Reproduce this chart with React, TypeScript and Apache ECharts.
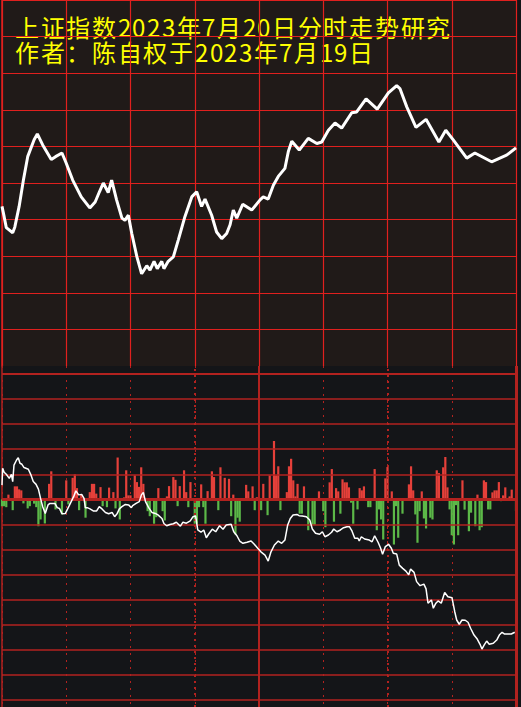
import React, { useEffect, useRef } from "react";
import * as echarts from "echarts";

const titleLines = ["上证指数2023年7月20日分时走势研究", "作者：陈自权于2023年7月19日"];

// top panel: index price line (minute of session, index points)
const priceMinutes = [0, 1, 2, 5, 6, 8, 10, 12, 15, 16.5, 19, 23, 25, 28, 30, 33, 37, 41, 43.5, 45.5, 47.3, 49.6, 51.2, 53.5, 56, 57.4, 59, 60.6, 63, 65.2, 67.6, 69.1, 71, 72.5, 74.6, 75.6, 77.6, 80, 82.3, 85.4, 88.6, 90.9, 93.2, 94.8, 97.9, 100.2, 102.6, 104.9, 106.5, 108, 109.6, 112.4, 116.6, 120.5, 122, 124.3, 126.7, 129, 132.1, 133.7, 135.3, 138.8, 143, 147, 149.3, 152.4, 155.5, 158.6, 163.3, 165.6, 170, 175.2, 180.4, 184.3, 185.8, 189, 193.3, 198, 204, 207.2, 210.7, 217, 220.8, 228.6, 235.6, 240];
const priceValues = [3181.8, 3180.4, 3178.9, 3178.2, 3179.0, 3181.8, 3185.4, 3188.6, 3190.9, 3191.7, 3190.2, 3188.2, 3188.6, 3189.1, 3187.7, 3185.4, 3183.1, 3181.6, 3182.4, 3183.8, 3185.0, 3183.7, 3185.4, 3182.7, 3180.2, 3179.9, 3180.6, 3178.1, 3174.9, 3172.6, 3173.7, 3173.1, 3174.3, 3173.3, 3174.3, 3173.3, 3174.3, 3174.9, 3177.2, 3180.4, 3183.1, 3183.8, 3181.8, 3182.8, 3180.6, 3178.3, 3177.4, 3178.1, 3179.3, 3181.3, 3180.2, 3182.1, 3181.3, 3182.7, 3183.1, 3182.8, 3184.7, 3185.9, 3187.0, 3189.3, 3190.7, 3189.5, 3191.1, 3190.4, 3190.6, 3192.2, 3193.2, 3192.5, 3194.6, 3194.7, 3196.5, 3195.1, 3197.3, 3198.3, 3197.9, 3195.4, 3192.6, 3193.7, 3190.6, 3192.2, 3190.9, 3188.4, 3189.1, 3187.9, 3188.8, 3189.8];

// bottom panel: positive (red) bars
const redMinutes = [3, 6, 7, 8, 9, 22, 23, 30, 33, 34, 35, 37, 41, 42, 43, 44, 46, 50, 52, 54, 57, 58, 59, 60, 62, 63, 64, 65, 66, 73, 77, 78, 80, 81, 83, 85, 86, 88, 93, 96, 98, 99, 102, 104, 106, 108, 114, 115, 117, 119, 122, 125, 127, 128, 129, 133, 134, 135, 136, 137, 138, 141, 148, 153, 154, 156, 157, 159, 160, 161, 162, 167, 168, 169, 174, 179, 180, 182, 190, 191, 192, 196, 203, 204, 206, 207, 208, 215, 222, 225, 226, 229, 230, 231, 232, 234, 235, 237, 238];
const redValues = [0.19, 0.52, 0.52, 0.4, 0.36, 0.62, 1.12, 0.76, 0.86, 1.0, 0.45, 0.19, 0.29, 0.62, 0.62, 0.23, 0.49, 0.47, 0.29, 1.67, 0.08, 1.16, 0.16, 0.16, 0.96, 0.69, 0.5, 1.28, 0.62, 0.45, 0.12, 0.53, 0.89, 0.78, 0.53, 1.16, 0.29, 0.69, 0.6, 0.33, 1.12, 0.89, 1.28, 0.86, 0.82, 0.19, 0.58, 0.32, 0.52, 0.09, 0.62, 0.96, 2.33, 0.96, 1.32, 0.29, 1.32, 1.62, 0.76, 0.12, 0.62, 0.52, 0.32, 0.68, 1.21, 0.45, 0.32, 0.8, 0.68, 0.68, 0.48, 0.45, 0.36, 0.52, 1.21, 0.84, 1.29, 0.32, 0.6, 1.32, 0.36, 0.32, 1.16, 1.05, 1.28, 1.69, 0.48, 0.76, 0.19, 0.76, 0.69, 0.28, 0.36, 0.36, 0.69, 0.16, 0.48, 0.12, 0.39];

// bottom panel: negative (green) bars
const greenMinutes = [0, 1, 2, 5, 10, 12, 13, 15, 16, 17, 18, 20, 25, 28, 31, 36, 39, 47, 49, 53, 55, 68, 69, 71, 72, 75, 76, 82, 87, 90, 91, 92, 94, 95, 101, 107, 109, 110, 111, 118, 121, 124, 130, 139, 140, 143, 145, 146, 150, 151, 155, 158, 163, 164, 166, 171, 172, 175, 176, 177, 178, 183, 184, 185, 187, 193, 194, 195, 197, 198, 200, 201, 209, 210, 211, 212, 213, 216, 218, 219, 221, 223, 224, 227, 228, 233, 240];
const greenValues = [-0.27, -0.27, -0.31, -0.43, -0.16, -0.36, -0.27, -0.17, -0.31, -1.07, -0.8, -0.96, -0.4, -0.6, -0.2, -0.43, -0.73, -0.27, -0.31, -0.36, -0.8, -0.47, -0.67, -0.97, -0.71, -0.47, -0.84, -0.27, -0.31, -0.97, -0.97, -0.31, -0.31, -0.97, -0.43, -0.67, -1.4, -0.73, -0.89, -0.43, -0.43, -0.63, -0.43, -0.57, -0.57, -1.23, -1.03, -1.03, -0.47, -1.11, -0.89, -0.57, -0.13, -0.97, -0.4, -0.31, -0.31, -1.23, -0.4, -0.8, -1.6, -1.8, -0.27, -1.53, -0.57, -0.6, -1.73, -0.47, -0.76, -1.16, -0.73, -0.8, -0.4, -1.43, -1.8, -0.23, -1.43, -0.41, -1.27, -0.53, -1.07, -1.23, -1.11, -0.4, -0.4, -0.07, -0.47];

// bottom panel: thin white line
const flowMinutes = [0, 0.3, 1, 2, 3.4, 4.4, 5, 5.6, 6.8, 7.6, 8.4, 9.3, 10.3, 12.3, 13.4, 14.6, 15.9, 17, 18, 19, 20.2, 21.5, 22.4, 24.7, 25.8, 26.8, 28, 29.6, 31.4, 32.7, 33.6, 34.5, 35.8, 37.2, 38.3, 38.9, 39.8, 41.1, 42.6, 44.2, 45.4, 46.7, 48.3, 49.8, 51.4, 52.6, 53.8, 54.8, 56, 57.6, 59.1, 60.4, 61, 62.6, 64.1, 65.1, 66, 67, 68.5, 70, 71.6, 72.8, 74.7, 75.6, 76.9, 78.4, 80, 81.4, 83.3, 84.5, 86.1, 87.9, 89.2, 90.4, 91.4, 92.9, 94.2, 95.4, 96.6, 98.2, 99.8, 101.6, 103.2, 104.7, 107, 108.2, 109.7, 111, 112.5, 114.4, 116.3, 117.8, 119.4, 120.9, 122.8, 124.3, 125.6, 127.2, 129, 130.6, 132.1, 133.4, 134.6, 135.9, 137.7, 138.7, 140.2, 142.1, 143.7, 144.9, 146.4, 148.3, 149.6, 150.8, 152.4, 153.9, 154.9, 156.4, 158, 159.5, 161.1, 162.2, 163.4, 164.7, 166.2, 166.8, 167.8, 169.3, 171.5, 172.8, 174, 175.6, 176.8, 177.7, 179, 180.5, 181.8, 182.7, 184.3, 185.5, 187.1, 188.6, 189.9, 190.8, 192.4, 193.6, 195.2, 197, 198, 198.9, 200.5, 201.4, 202.6, 203.6, 205.1, 206.7, 208.2, 210.1, 211.4, 212.3, 213.5, 214.8, 216.3, 217.6, 218.8, 220.4, 221.9, 223.2, 224.1, 225.1, 226.3, 227.5, 229.4, 231, 232.2, 233.5, 234.7, 237.8, 239.4];
const flowValues = [0.57, 1.24, 1.08, 1.0, 0.84, 1.0, 0.71, 1.37, 1.57, 1.66, 1.44, 1.4, 1.27, 1.2, 1.0, 0.71, 0.6, 0.41, 0.04, -0.29, -0.56, -0.22, -0.16, -0.16, -0.33, -0.36, -0.57, -0.56, -0.25, -0.02, 0.14, 0.34, 0.18, 0.2, 0.04, -0.33, -0.33, -0.38, -0.46, -0.46, -0.29, -0.38, -0.52, -0.57, -0.52, -0.69, -0.56, -0.38, -0.29, -0.2, -0.22, -0.33, -0.25, -0.16, -0.09, 0.18, 0.28, -0.09, -0.33, -0.52, -0.56, -0.62, -0.76, -0.96, -1.05, -1.0, -0.97, -0.91, -1.07, -0.91, -0.95, -0.86, -0.69, -0.66, -1.22, -1.31, -1.22, -1.53, -1.37, -1.19, -1.29, -1.05, -1.19, -1.02, -0.99, -1.29, -1.45, -1.66, -1.75, -1.71, -1.66, -1.79, -1.95, -2.09, -2.22, -2.46, -2.09, -1.82, -1.66, -1.75, -1.62, -1.02, -0.76, -0.62, -0.6, -0.65, -0.66, -0.69, -0.82, -1.18, -1.35, -1.39, -1.29, -1.49, -1.42, -1.31, -1.18, -1.29, -1.22, -1.13, -1.09, -1.09, -1.26, -1.55, -1.55, -1.66, -1.49, -1.58, -1.62, -1.69, -1.45, -1.71, -1.95, -2.19, -1.88, -1.79, -1.95, -2.15, -2.18, -2.62, -2.75, -2.86, -3.01, -2.78, -2.91, -3.28, -3.44, -3.38, -3.57, -4.14, -4.01, -4.34, -4.14, -4.05, -4.14, -3.71, -3.88, -3.92, -4.48, -4.81, -4.98, -4.81, -4.82, -4.9, -5.14, -5.41, -5.57, -5.78, -5.97, -5.81, -5.65, -5.78, -5.74, -5.61, -5.41, -5.3, -5.37, -5.37, -5.3];

// bottom panel horizontal guide levels
const lowerLevels = [-8, -7, -6, -5, -4, -3, -2, -1, 0, 1, 2, 3, 4, 5];

const RED_TOP = "#e0201e";
const RED_BOT = "#b2221f";

const css = `
@font-face {
  font-family: "TitleCJK";
  src: local("Noto Sans CJK SC"), local("Noto Sans CJK SC Regular"), local("NotoSansCJKsc-Regular");
  ascent-override: 88%;
  descent-override: 12%;
  line-gap-override: 0%;
}
.title-chart svg text { letter-spacing: 1.7px; }
`;

export default function App() {
  const ref = useRef<HTMLDivElement>(null);
  useEffect(() => {
    if (!ref.current) return;
    const chart = echarts.init(ref.current, undefined, { renderer: "svg" });
    const price = priceMinutes.map((m, i) => [m, priceValues[i]]);
    const bars = [
      ...redMinutes.map((m, i) => ({ value: [m, redValues[i]], itemStyle: { color: "#e5403a" } })),
      ...greenMinutes.map((m, i) => ({ value: [m, greenValues[i]], itemStyle: { color: "#5cb848" } })),
    ];
    const flow = flowMinutes.map((m, i) => [m, flowValues[i]]);
    const levelLines = lowerLevels.map((v) => ({
      yAxis: v,
      lineStyle: { color: RED_BOT, width: v === 0 ? 3 : v === 5 ? 2 : 1.5, type: "solid" },
    }));
    const titleFont = '24px "TitleCJK", "Noto Sans CJK SC"';
    chart.setOption({
      animation: false,
      backgroundColor: "#141518",
      grid: [
        { left: 2, right: 5, top: 0, height: 366, show: true, backgroundColor: "#201a18", borderWidth: 0 },
        { left: 2, right: 5, top: 366, height: 341, show: false },
      ],
      xAxis: [
        {
          type: "value", gridIndex: 0, min: 0, max: 240, interval: 30,
          axisLine: { show: false }, axisTick: { show: false }, axisLabel: { show: false },
          splitLine: { show: true, lineStyle: { color: RED_TOP, width: 1.2 } },
        },
        {
          type: "value", gridIndex: 1, min: 0, max: 240, interval: 30,
          axisLine: { show: false }, axisTick: { show: false }, axisLabel: { show: false },
          splitLine: { show: true, lineStyle: { color: RED_BOT, width: 1, type: [2, 5] } },
        },
      ],
      yAxis: [
        {
          type: "value", gridIndex: 0, min: 3160, max: 3210, interval: 5,
          axisLine: { show: true, lineStyle: { color: RED_TOP, width: 1.5 } },
          axisTick: { show: false }, axisLabel: { show: false },
          splitLine: { show: true, showMinLine: false, lineStyle: { color: RED_TOP, width: 1.2 } },
        },
        {
          type: "value", gridIndex: 1, min: -8.28, max: 5.32,
          axisLine: { show: true, lineStyle: { color: RED_BOT, width: 1.5 } },
          axisTick: { show: false }, axisLabel: { show: false },
          splitLine: { show: false },
        },
      ],
      graphic: [
        {
          type: "text", x: 15, y: 27.5, silent: true,
          style: { text: titleLines[0], fill: "#ffff00", font: titleFont, verticalAlign: "middle" },
        },
        {
          type: "text", x: 15, y: 52.5, silent: true,
          style: { text: titleLines[1], fill: "#ffff00", font: titleFont, verticalAlign: "middle" },
        },
      ],
      series: [
        {
          type: "line", xAxisIndex: 0, yAxisIndex: 0, data: price, showSymbol: false,
          lineStyle: { color: "#ffffff", width: 3 }, silent: true,
        },
        {
          type: "bar", xAxisIndex: 1, yAxisIndex: 1, data: bars, barWidth: 2.2, silent: true,
          markLine: {
            silent: true, symbol: "none", label: { show: false },
            data: [
              ...levelLines,
              { xAxis: 120, lineStyle: { color: RED_BOT, width: 2, type: "solid" } },
              { xAxis: 90, lineStyle: { color: RED_BOT, width: 2, type: [2, 4] } },
              { xAxis: 180, lineStyle: { color: RED_BOT, width: 2, type: [2, 4] } },
              { xAxis: 240, lineStyle: { color: RED_BOT, width: 3, type: "solid" } },
            ],
          },
        },
        {
          type: "line", xAxisIndex: 1, yAxisIndex: 1, data: flow, showSymbol: false,
          lineStyle: { color: "#ffffff", width: 1.5 }, silent: true, z: 5,
        },
      ],
    });
    return () => chart.dispose();
  }, []);
  return (
    <>
      <style>{css}</style>
      <div
        ref={ref}
        className="title-chart"
        style={{ position: "fixed", left: 0, top: 0, width: 521, height: 707 }}
      />
    </>
  );
}
